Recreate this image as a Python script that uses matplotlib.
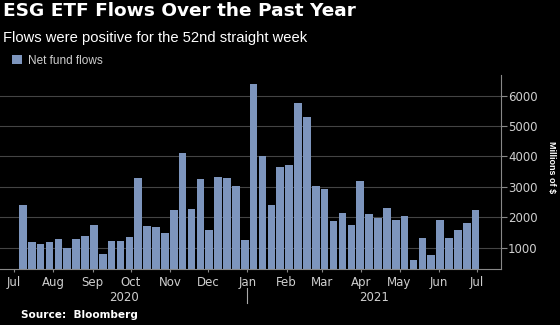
import numpy as np
import matplotlib
matplotlib.use('Agg')
import matplotlib.pyplot as plt
import matplotlib.dates as mdates
import matplotlib.transforms as mtransforms
import datetime as dt

# weekly net flows into ESG ETFs, millions of $
first_week = dt.date(2020, 7, 8)
flows = [2410, 1175, 1120, 1185, 1275, 990, 1295, 1370, 1755, 805,
         1220, 1220, 1340, 3290, 1700, 1670, 1495, 2230, 4100, 2280,
         3270, 1580, 3330, 3290, 3040, 1265, 6400, 4020, 2390, 3650,
         3705, 5745, 5315, 3040, 2940, 1875, 2130, 1735, 3210, 2095,
         1975, 2290, 1910, 2040, 595, 1330, 770, 1920, 1330, 1570,
         1820, 2230]
weeks = [first_week + dt.timedelta(weeks=i) for i in range(len(flows))]
yticks = [1000, 2000, 3000, 4000, 5000, 6000]

title = 'ESG ETF Flows Over the Past Year'
subtitle = 'Flows were positive for the 52nd straight week'

bar_color = '#7d95bd'
text_grey = '#cfcfcf'

fig = plt.figure(figsize=(5.6, 3.25), dpi=100, facecolor='black')
ax = fig.add_axes((0.0, 0.1723, 0.8946, 0.5969), facecolor='black')

x = mdates.date2num(weeks)
ax.bar(x, flows, width=6, color=bar_color, zorder=2, label='Net fund flows')

# --- axes limits
ax.set_xlim(mdates.date2num(dt.date(2020, 6, 20)), mdates.date2num(dt.date(2021, 7, 20)))
ax.set_ylim(300, 6680)

# --- y axis on the right
ax.yaxis.tick_right()
ax.set_yticks(yticks)
ax.tick_params(axis='y', colors='#888888', labelcolor=text_grey, labelsize=8.5,
               length=4, width=0.8, direction='out', pad=1)
ax.grid(axis='y', color='#444444', lw=0.8, zorder=0)

# --- month ticks
ax.xaxis.set_major_locator(mdates.MonthLocator())
ax.xaxis.set_major_formatter(mdates.DateFormatter('%b'))
ax.tick_params(axis='x', colors='#888888', labelcolor=text_grey, labelsize=8.5,
               length=2, width=0.8, pad=3)

for side in ['top', 'left']:
    ax.spines[side].set_visible(False)
for side in ['bottom', 'right']:
    ax.spines[side].set_color('#888888')
    ax.spines[side].set_linewidth(0.8)

# --- year labels and separator
trans = mtransforms.blended_transform_factory(ax.transData, ax.transAxes)
x0, x1 = ax.get_xlim()
jan = mdates.date2num(dt.date(2021, 1, 1))
ax.text((x0 + jan) / 2, -0.145, '2020', transform=trans, ha='center', va='center',
        color=text_grey, fontsize=8.5)
ax.text((jan + x1) / 2, -0.145, '2021', transform=trans, ha='center', va='center',
        color=text_grey, fontsize=8.5)
ax.plot([jan, jan], [-0.098, -0.175], transform=trans, color='#aaaaaa', lw=0.8,
        clip_on=False)

# --- y label
fig.text(0.984, 0.487, 'Millions of $', rotation=270, ha='center', va='center',
         color='white', fontsize=6.5, fontweight='bold',
         family=['Liberation Sans Narrow', 'Liberation Sans'])

# --- titles
fig.text(0.005, 0.995, title, ha='left', va='top', color='white', fontsize=13.3,
         fontweight='bold')
fig.text(0.005, 0.905, subtitle, ha='left', va='top', color='white', fontsize=10.6,
         family='Liberation Sans')

leg = ax.legend(loc='upper left', bbox_to_anchor=(0.015, 1.13), frameon=False,
                handlelength=0.8, handleheight=0.8, handletextpad=0.5,
                prop={'family': 'Liberation Sans', 'size': 8.5}, borderaxespad=0)
for t in leg.get_texts():
    t.set_color(text_grey)

fig.text(0.037, 0.015, 'Source:  Bloomberg', ha='left', va='bottom', color='white',
         fontsize=7.6, fontweight='bold')

fig.savefig('out.png', dpi=100, facecolor='black')
